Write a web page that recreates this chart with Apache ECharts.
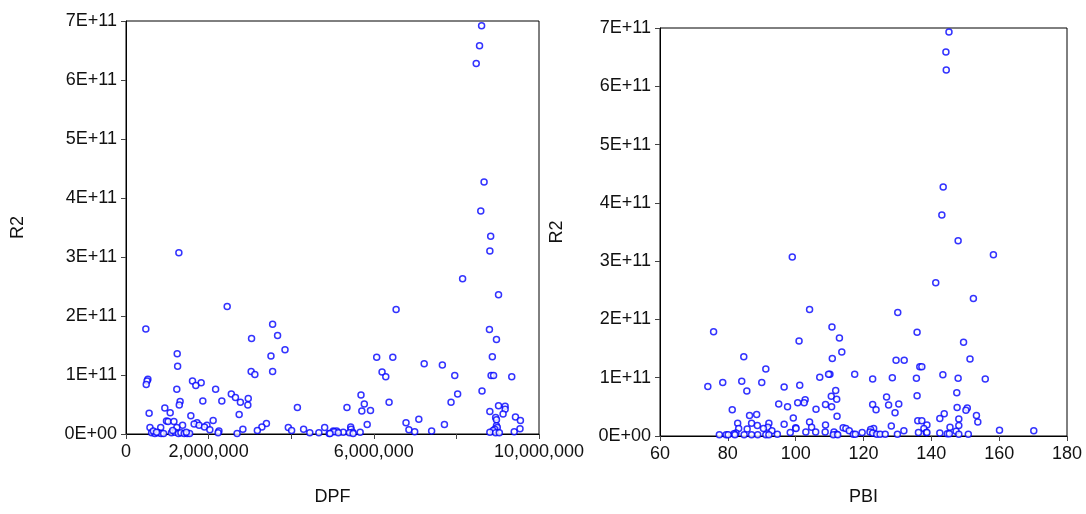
<!DOCTYPE html>
<html>
<head>
<meta charset="utf-8">
<title>R2 vs DPF / PBI</title>
<script src="https://cdn.jsdelivr.net/npm/echarts@6/dist/echarts.min.js"></script>
<style>
  html, body { margin: 0; padding: 0; background: #fff; }
  #chart { width: 1086px; height: 514px; }
</style>
</head>
<body>
<div id="chart"></div>
<script>
/**
 * desc: 数据 (DPF 单位: 百万, R2 单位: 1E+11)
 */
var dpfValues = [8.61, 8.56, 8.48, 8.67, 8.59, 8.83, 8.81, 1.28, 8.15, 9.02, 2.45, 6.54, 3.55, 0.48, 8.80, 3.67, 3.04, 8.97, 3.85, 1.24,
    3.51, 6.07, 6.46, 8.87, 7.22, 7.66, 1.25, 3.03, 3.55, 3.12, 6.20, 7.96, 8.84, 8.90, 9.34, 6.29, 0.53, 0.51, 0.49, 1.61,
    1.82, 1.69, 1.23, 2.17, 8.62, 2.55, 8.03, 5.69, 2.65, 2.96, 2.32, 1.86, 1.31, 2.77, 7.87, 6.37, 5.77, 1.29, 2.95, 9.02,
    9.18, 4.15, 5.35, 0.94, 9.18, 5.92, 5.71, 8.81, 1.07, 0.56, 9.13, 2.74, 1.57, 9.43, 8.95, 7.09, 8.97, 9.55, 2.11, 0.98,
    1.02, 1.16, 1.72, 6.78, 3.40, 1.65, 5.84, 7.71, 1.77, 1.96, 1.37, 8.97, 1.90, 3.29, 5.44, 1.23, 0.58, 0.84, 3.93, 4.81,
    8.99, 4.30, 2.83, 5.45, 8.93, 2.03, 6.85, 3.18, 4.01, 8.89, 2.25, 5.02, 5.10, 7.40, 6.99, 5.04, 9.40, 9.54, 5.49, 5.67,
    5.26, 8.81, 4.45, 4.67, 5.41, 8.95, 9.04, 2.69, 4.92, 0.62, 0.70, 0.78, 0.85, 0.91, 1.10, 1.19, 1.27, 1.33, 1.41, 1.48,
    1.54, 0.66, 0.74, 1.13, 1.46, 2.23, 4.94, 5.14, 5.50];
var r2Left = [6.92, 6.58, 6.28, 4.27, 3.78, 3.35, 3.10, 3.07, 2.63, 2.36, 2.16, 2.11, 1.86, 1.78, 1.77, 1.67, 1.62, 1.60, 1.43, 1.36,
    1.32, 1.30, 1.30, 1.31, 1.19, 1.17, 1.15, 1.06, 1.06, 1.01, 1.05, 0.99, 0.99, 0.99, 0.97, 0.97, 0.93, 0.90, 0.84, 0.90,
    0.87, 0.82, 0.76, 0.76, 0.73, 0.68, 0.68, 0.66, 0.62, 0.60, 0.56, 0.56, 0.55, 0.54, 0.54, 0.54, 0.51, 0.49, 0.49, 0.48,
    0.47, 0.45, 0.45, 0.44, 0.42, 0.40, 0.39, 0.38, 0.36, 0.35, 0.34, 0.33, 0.31, 0.29, 0.28, 0.25, 0.24, 0.23, 0.23, 0.22,
    0.21, 0.21, 0.19, 0.19, 0.18, 0.17, 0.16, 0.16, 0.15, 0.15, 0.15, 0.14, 0.12, 0.12, 0.12, 0.11, 0.11, 0.11, 0.11, 0.11,
    0.11, 0.08, 0.08, 0.08, 0.08, 0.07, 0.07, 0.06, 0.06, 0.06, 0.05, 0.05, 0.05, 0.05, 0.04, 0.04, 0.04, 0.09, 0.03, 0.03,
    0.03, 0.03, 0.02, 0.02, 0.02, 0.02, 0.02, 0.01, 0.01, 0.02, 0.01, 0.02, 0.01, 0.01, 0.02, 0.03, 0.01, 0.02, 0.01, 0.01,
    0.01, 0.05, 0.03, 0.06, 0.03, 0.02, 0.01, 0.02, 0.01];

var pbiValues = [145.2, 144.3, 144.4, 143.5, 143.1, 147.9, 158.3, 99.0, 152.4, 141.3, 104.1, 130.1, 110.7, 75.8, 135.8, 112.9, 101.0, 149.5, 113.6, 84.7,
    110.8, 151.4, 129.6, 132.0, 136.6, 137.2, 91.2, 117.4, 143.4, 110.1, 109.7, 107.1, 122.7, 128.5, 135.6, 147.9, 155.9, 78.5, 84.1, 90.0,
    101.2, 74.1, 96.6, 111.8, 85.6, 147.5, 135.8, 110.5, 126.8, 112.1, 102.8, 102.5, 100.6, 95.0, 130.4, 108.8, 122.7, 127.4, 110.6, 97.6,
    147.6, 150.6, 106.0, 81.3, 123.7, 150.2, 129.3, 143.8, 88.5, 86.4, 153.3, 112.2, 99.3, 142.5, 148.1, 136.0, 137.2, 104.1, 153.7, 82.9,
    87.0, 92.1, 96.6, 108.8, 138.7, 88.7, 148.1, 128.2, 91.8, 104.7, 145.5, 114.0, 100.0, 83.2, 90.5, 100.1, 114.8, 123.0, 137.8, 85.7,
    122.1, 160.1, 93.0, 131.9, 115.8, 170.2, 147.3, 103.0, 105.9, 108.7, 111.3, 121.9, 136.2, 138.5, 138.7, 98.4, 119.6, 142.5, 122.7, 82.4,
    144.7, 145.3, 81.8, 94.6, 117.0, 117.6, 123.9, 124.9, 126.4, 130.0, 148.1, 150.9, 112.1, 77.5, 79.5, 80.1, 82.1, 84.8, 87.0, 88.8,
    91.2, 92.1, 111.1, 112.4];
var r2Right = [6.93, 6.59, 6.28, 4.27, 3.79, 3.35, 3.11, 3.07, 2.36, 2.63, 2.17, 2.12, 1.87, 1.79, 1.78, 1.68, 1.63, 1.61, 1.44, 1.36,
    1.33, 1.32, 1.30, 1.30, 1.19, 1.19, 1.15, 1.06, 1.05, 1.06, 1.06, 1.01, 0.98, 1.00, 0.99, 0.99, 0.98, 0.92, 0.94, 0.92,
    0.87, 0.85, 0.84, 0.78, 0.77, 0.74, 0.69, 0.68, 0.67, 0.63, 0.62, 0.57, 0.57, 0.55, 0.55, 0.54, 0.54, 0.53, 0.50, 0.50,
    0.49, 0.48, 0.46, 0.45, 0.45, 0.44, 0.40, 0.38, 0.37, 0.35, 0.35, 0.34, 0.31, 0.30, 0.29, 0.26, 0.26, 0.24, 0.24, 0.22,
    0.22, 0.22, 0.20, 0.19, 0.19, 0.18, 0.18, 0.17, 0.15, 0.15, 0.15, 0.14, 0.14, 0.13, 0.13, 0.13, 0.13, 0.13, 0.13, 0.12,
    0.11, 0.10, 0.09, 0.09, 0.09, 0.09, 0.08, 0.07, 0.07, 0.07, 0.07, 0.07, 0.06, 0.06, 0.06, 0.06, 0.06, 0.05, 0.05, 0.05,
    0.04, 0.04, 0.04, 0.03, 0.03, 0.03, 0.03, 0.03, 0.03, 0.03, 0.03, 0.03, 0.03, 0.02, 0.02, 0.02, 0.02, 0.02, 0.02, 0.02,
    0.02, 0.02, 0.02, 0.02];

var yTicks = [0, 1, 2, 3, 4, 5, 6, 7];           // 1E+11
var dpfTickLabels = [0, 2000000, 6000000, 10000000]; // 4M / 8M 只画刻度不写字

/**
 * desc: 组装散点数据
 */
function pairs(xs, ys, xUnit, yUnit){
    var out = []
    for(var i = 0; i < xs.length && i < ys.length; i++){
        out.push([xs[i] * xUnit, ys[i] * yUnit])
    }
    return out
}

var font = {fontFamily: '"Liberation Sans", Arial, sans-serif', fontSize: 18, color: '#111'}

function yAxisOpt(gridIndex, gap){
    return {
        gridIndex: gridIndex,
        type: 'value',
        min: yTicks[0] * 1e11,
        max: yTicks[yTicks.length - 1] * 1e11,
        interval: 1e11,
        name: 'R2',
        nameLocation: 'middle',
        nameRotate: 90,
        nameGap: gap,
        nameTextStyle: font,
        axisLine: {show: true, lineStyle: {color: '#000', width: 1}},
        axisTick: {show: true, length: 5, lineStyle: {color: '#444'}},
        splitLine: {show: false},
        axisLabel: Object.assign({
            margin: 9,
            formatter: function(v){
                return v === 0 ? '0E+00' : Math.round(v / 1e11) + 'E+11'
            }
        }, font)
    }
}

var chart = echarts.init(document.getElementById('chart'))
var symbolStyle = {color: '#fff', borderColor: '#0000ff', borderWidth: 1.5}

var option = {
    animation: false,
    backgroundColor: '#fff',
    grid: [
        {left: 126, top: 21, width: 413, height: 413, show: true, borderColor: '#000', borderWidth: 1, backgroundColor: 'transparent'},
        {left: 660, top: 28, width: 407, height: 408, show: true, borderColor: '#000', borderWidth: 1, backgroundColor: 'transparent'}
    ],
    xAxis: [
        {
            gridIndex: 0,
            type: 'value',
            min: 0,
            max: 10000000,
            interval: 2000000,
            name: 'DPF',
            nameLocation: 'middle',
            nameGap: 54,
            nameTextStyle: font,
            axisLine: {show: true, onZero: false, lineStyle: {color: '#000'}},
            axisTick: {show: true, length: 5, lineStyle: {color: '#444'}},
            splitLine: {show: false},
            axisLabel: Object.assign({
                margin: 9,
                showMaxLabel: true,
                showMinLabel: true,
                formatter: function(v){
                    return dpfTickLabels.indexOf(v) >= 0 ? v.toLocaleString('en-US') : ''
                }
            }, font)
        },
        {
            gridIndex: 1,
            type: 'value',
            min: 60,
            max: 180,
            interval: 20,
            name: 'PBI',
            nameLocation: 'middle',
            nameGap: 52,
            nameTextStyle: font,
            axisLine: {show: true, onZero: false, lineStyle: {color: '#000'}},
            axisTick: {show: true, length: 5, lineStyle: {color: '#444'}},
            splitLine: {show: false},
            axisLabel: Object.assign({margin: 9, showMaxLabel: true, showMinLabel: true}, font)
        }
    ],
    yAxis: [yAxisOpt(0, 99), yAxisOpt(1, 94)],
    series: [
        {
            type: 'scatter',
            xAxisIndex: 0,
            yAxisIndex: 0,
            symbol: 'circle',
            symbolSize: 6,
            itemStyle: symbolStyle,
            data: pairs(dpfValues, r2Left, 1e6, 1e11)
        },
        {
            type: 'scatter',
            xAxisIndex: 1,
            yAxisIndex: 1,
            symbol: 'circle',
            symbolSize: 6,
            itemStyle: symbolStyle,
            data: pairs(pbiValues, r2Right, 1, 1e11)
        }
    ]
}

chart.setOption(option)
</script>
</body>
</html>
